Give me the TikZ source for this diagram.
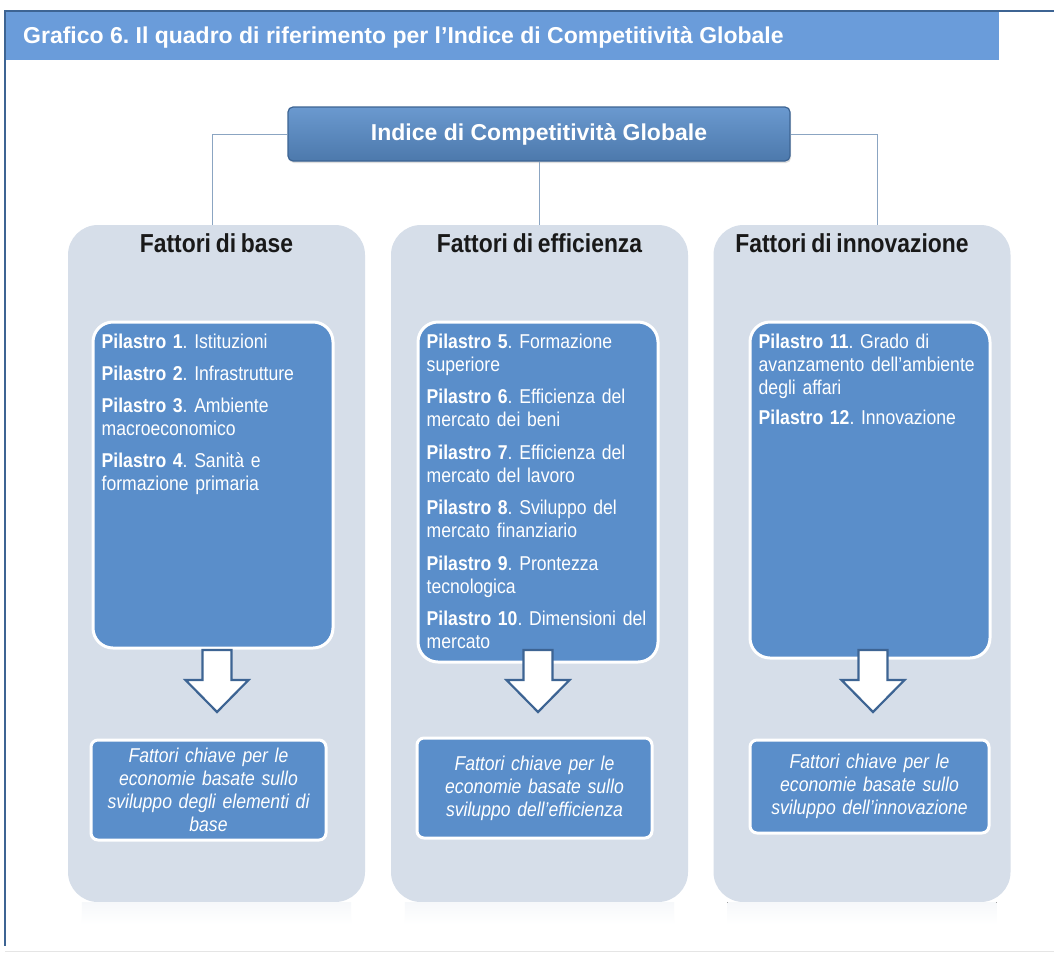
\documentclass[tikz,border=0pt]{standalone}
\usepackage{fontspec}
\setmainfont{Liberation Sans}
\newfontfamily\narrow[FakeStretch=0.88,WordSpace=0.75]{Liberation Sans}
\usepackage{tikz}
\usetikzlibrary{positioning}
\usetikzlibrary{shadows}

\definecolor{barblue}{HTML}{6A9CDA}
\definecolor{boxblue}{HTML}{5A8ECA}
\definecolor{deepblue}{HTML}{3D6493}
\definecolor{colgray}{HTML}{D6DEE9}
\definecolor{wireblue}{HTML}{8BA5C2}
\newcommand{\pil}[1]{\textbf{Pilastro #1}.}
\newcommand{\blockarrow}[1]{\draw[arrowbody] (#1) ++(-14.5,0) -- ++(0,30) -- ++(-17,0) -- ++(31.5,32) -- ++(31.5,-32) -- ++(-17,0) -- ++(0,-30) -- cycle;}
\frenchspacing

\begin{document}
\begin{tikzpicture}[x=1pt,y=-1pt, column/.style={rectangle,rounded corners=30pt,fill=colgray,minimum width=297pt,minimum height=677pt}]
		\tikzstyle{pillar}=[rectangle,rounded corners=20pt,fill=boxblue,draw=white,line width=3pt,minimum width=240pt]
		\tikzstyle{piltext}=[anchor=north west,inner sep=0pt,text width=232pt,align=left,text=white,font=\narrow\fontsize{20}{23}\selectfont]
		\tikzstyle{keybox}=[rectangle,rounded corners=7pt,fill=boxblue,draw=white,line width=3pt,minimum width=235pt,text width=225pt,align=center,text=white,font=\narrow\itshape\fontsize{20}{23}\selectfont]
		\tikzstyle{header}=[inner sep=0pt,text=black!90,font=\narrow\bfseries\fontsize{26}{30}\selectfont]
		\tikzstyle{conn}=[draw=wireblue,line width=1pt]
		\tikzstyle{arrowbody}=[fill=white,draw=deepblue,line width=2.2pt,line join=miter]

		\useasboundingbox (0,0) rectangle (1054,954);
		\fill[white] (0,0) rectangle (1054,954);

		% Title bar and frame
		\node[rectangle,fill=barblue,minimum width=994pt,minimum height=48pt,inner sep=0pt] (bar) at (502,36) {};
		\node[anchor=west,inner sep=0pt,text=white,font=\bfseries\fontsize{23}{27}\selectfont] (title) at (23,37) {Grafico 6. Il quadro di riferimento per l’Indice di Competitività Globale};
		\draw[deepblue,line width=2.5pt] (1054,11) -- (5,11) -- (5,946);
		\draw[black!10,line width=1pt] (5,951) -- (1054,951);

		% Three groups of factors
		\node[column] (colbase) at (216.5,563.5) {};
		\node[column] (coleff) at (539.5,563.5) {};
		\node[column] (colinn) at (862,563.5) {};
		\foreach \c in {colbase,coleff,colinn}
			\fill[top color=colgray!22,bottom color=white] ([xshift=14pt]\c.south west) rectangle ([xshift=-14pt,yshift=-22pt]\c.south east);

		\node[header,below=9pt of colbase.north] (hbase) {Fattori di base};
		\node[header,below=9pt of coleff.north] (heff) {Fattori di efficienza};
		\node[header,below=9pt of colinn.north,xshift=-10pt] (hinn) {Fattori di innovazione};

		% Index on top
		\node[rectangle,rounded corners=5pt,top color=boxblue!90!white,bottom color=boxblue!85!black,draw=deepblue,line width=1.2pt,minimum width=502pt,minimum height=54pt,text=white,font=\bfseries\fontsize{23}{27}\selectfont,drop shadow={opacity=0.25,shadow xshift=1pt,shadow yshift=-2pt}] (gci) at (539,134) {Indice di Competitività Globale};

		% Draw connectors
		\draw[conn] (gci.west) -| ([xshift=-4pt]colbase.north);
		\draw[conn] (gci.south) -- (gci.south |- coleff.north);
		\draw[conn] (gci.east) -| ([xshift=15pt]colinn.north);

		% Pillars
		\node[pillar,minimum height=326pt] (pbase) at (213,485) {};
		\node[pillar,minimum height=340pt] (peff) at (538,492) {};
		\node[pillar,minimum height=336pt] (pinn) at (870,490) {};

		\node[piltext] (tbase) at ([shift={(10,13)}]pbase.north west) {\pil{1} Istituzioni\\[9pt]
			\pil{2} Infrastrutture\\[9pt]
			\pil{3} Ambiente\\ macroeconomico\\[9pt]
			\pil{4} Sanità e\\ formazione primaria};
		\node[piltext] (teff) at ([shift={(10,13)}]peff.north west) {\pil{5} Formazione\\ superiore\\[9.5pt]
			\pil{6} Efficienza del\\ mercato dei beni\\[9.5pt]
			\pil{7} Efficienza del\\ mercato del lavoro\\[9.5pt]
			\pil{8} Sviluppo del\\ mercato finanziario\\[9.5pt]
			\pil{9} Prontezza\\ tecnologica\\[9.5pt]
			\pil{10} Dimensioni del\\ mercato};
		\node[piltext] (tinn) at ([shift={(10,13)}]pinn.north west) {\pil{11} Grado di\\ avanzamento dell’ambiente\\ degli affari\\[7pt]
			\pil{12} Innovazione};

		% Block arrows
		\coordinate (abase) at (217,650);
		\coordinate (aeff) at (538,650);
		\coordinate (ainn) at (873,650);
		\blockarrow{abase}
		\blockarrow{aeff}
		\blockarrow{ainn}

		% Key factors
		\node[keybox,minimum height=100pt] (kbase) at (208.5,790) {Fattori chiave per le\\ economie basate sullo\\ sviluppo degli elementi di\\ base};
		\node[keybox,minimum height=100pt] (keff) at (534.5,788) {Fattori chiave per le\\ economie basate sullo\\ sviluppo dell’efficienza};
		\node[keybox,minimum height=93pt,minimum width=239pt] (kinn) at (869.5,786.5) {Fattori chiave per le\\ economie basate sullo\\ sviluppo dell’innovazione};

\end{tikzpicture}
\end{document}
